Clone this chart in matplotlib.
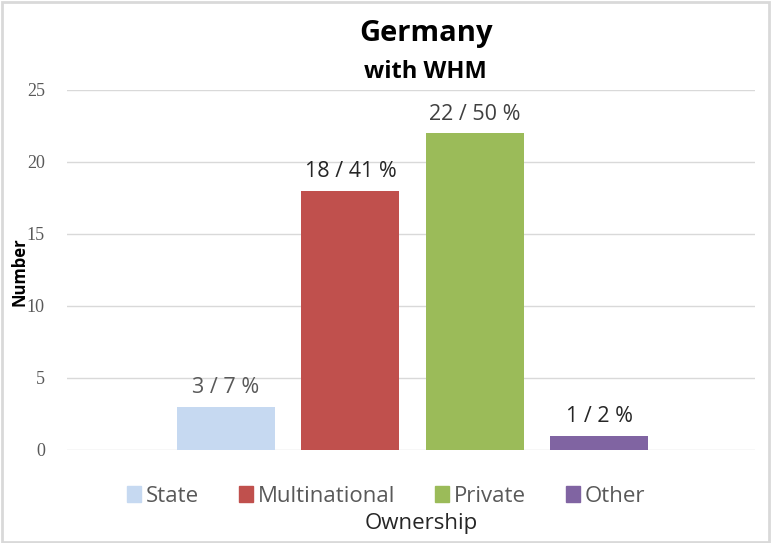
import matplotlib
matplotlib.use("Agg")
import matplotlib.pyplot as plt
from matplotlib.patches import Rectangle

categories = ["State", "Multinational", "Private", "Other"]
values = [3, 18, 22, 1]
labels = ["3 / 7 %", "18 / 41 %", "22 / 50 %", "1 / 2 %"]
label_colors = ["#595959", "#262626", "#404040", "#262626"]
colors = ["#C6D9F1", "#C0504D", "#9BBB59", "#8064A2"]
yticks = [0, 5, 10, 15, 20, 25]

plt.rcParams['font.family'] = ['Open Sans', 'DejaVu Sans']

fig = plt.figure(figsize=(7.71, 5.43), dpi=100)
ax = fig.add_axes([67/771, 1-450/543, (755-67)/771, 360/543])

x = list(range(len(categories)))
width = 98/124.5
bars = ax.bar(x, values, width=width, color=colors, zorder=3)
for xi, v, lab, c in zip(x, values, labels, label_colors):
    ax.text(xi, v + 0.6, lab, ha='center', va='bottom', fontsize=15.5, color=c)

ax.set_xlim((67-226)/124.5, (755-226)/124.5)
ax.set_ylim(0, 25)
ax.set_yticks(yticks)
ax.set_xticks([])
ax.grid(axis='y', color='#D9D9D9', linewidth=1, zorder=0)
for s in ax.spines.values():
    s.set_visible(False)
ax.tick_params(axis='y', length=0, pad=16, labelsize=12, labelcolor='#595959')
for t in ax.get_yticklabels():
    t.set_fontfamily(['Liberation Serif', 'DejaVu Serif'])
    t.set_fontsize(13)

fig.text(426/771, 1-33/543, "Germany", ha='center', va='center', fontsize=21, fontweight='bold', color='black')
fig.text(425/771, 1-72/543, "with WHM", ha='center', va='center', fontsize=17, fontweight='bold', color='black')
fig.text(19/771, 1-272/543, "Number", ha='center', va='center', rotation=90, fontsize=12, fontweight='bold', color='black')
fig.text(421/771, 1-523/543, "Ownership", ha='center', va='center', fontsize=16, color='#262626')

handles = [Rectangle((0, 0), 1, 1, color=c) for c in colors]
leg = fig.legend(handles, categories, loc='center', bbox_to_anchor=(386/771, 1-496/543), ncol=4,
                 frameon=False, fontsize=16, handlelength=0.65, handleheight=0.75, handletextpad=0.2,
                 columnspacing=1.8, labelcolor='#595959')

fig.patches.append(Rectangle((0.003, 0.002), 0.994, 0.995, transform=fig.transFigure, fill=False,
                             edgecolor='#D9D9D9', linewidth=2))
fig.savefig("out.png", dpi=100)
